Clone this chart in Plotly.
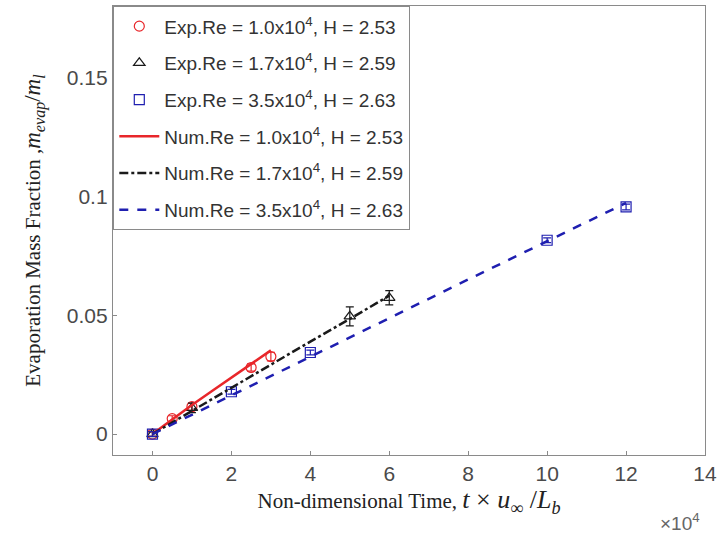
import plotly.graph_objects as go

# Experimental data (x in units of 1e4)
exp1_x = [0, 0.5, 1.0, 2.5, 3.0]
exp1_y = [0.0, 0.0065, 0.0115, 0.028, 0.0326]
exp1_err = [0.001, 0.0012, 0.0015, 0.0015, 0.0018]

exp2_x = [0, 1.0, 5.0, 6.0]
exp2_y = [0.0, 0.011, 0.0495, 0.0573]
exp2_err = [0.001, 0.002, 0.004, 0.003]

exp3_x = [0, 2.0, 4.0, 10.0, 12.0]
exp3_y = [0.0, 0.0178, 0.0343, 0.0815, 0.0955]
exp3_err = [0.001, 0.001, 0.001, 0.001, 0.0012]

# Numerical curves
num1_x = [0, 0.5, 1.0, 1.5, 2.0, 2.5, 3.0]
num1_y = [0.0, 0.0062, 0.0122, 0.018, 0.0238, 0.0295, 0.0352]
num2_x = [0, 1, 2, 3, 4, 5, 6]
num2_y = [0.0, 0.0098, 0.0196, 0.0293, 0.0389, 0.0484, 0.0582]
num3_x = [0, 2, 4, 6, 8, 10, 12]
num3_y = [0.0, 0.0163, 0.0326, 0.0488, 0.0650, 0.0811, 0.0972]

labels_exp = ["Exp.Re = 1.0x10<sup>4</sup>, H = 2.53",
              "Exp.Re = 1.7x10<sup>4</sup>, H = 2.59",
              "Exp.Re = 3.5x10<sup>4</sup>, H = 2.63"]
labels_num = ["Num.Re = 1.0x10<sup>4</sup>, H = 2.53",
              "Num.Re = 1.7x10<sup>4</sup>, H = 2.59",
              "Num.Re = 3.5x10<sup>4</sup>, H = 2.63"]

red = "#e8262a"
black = "#1a1a1a"
blue = "#1f1fb0"

fig = go.Figure()

exps = [(exp1_x, exp1_y, exp1_err, red, "circle-open"),
        (exp2_x, exp2_y, exp2_err, black, "triangle-up-open"),
        (exp3_x, exp3_y, exp3_err, blue, "square-open")]
for i, (x, y, e, c, sym) in enumerate(exps):
    fig.add_trace(go.Scatter(
        x=x, y=y, mode="markers", name=labels_exp[i], legendgroup=f"g{i}",
        marker=dict(symbol=sym, size=10, color=c, line=dict(width=1.2, color=c)),
        error_y=dict(type="data", array=e, color=c, thickness=1.2, width=4),
    ))

nums = [(num1_x, num1_y, red, "solid", 2.5),
        (num2_x, num2_y, black, "dashdot", 2.5),
        (num3_x, num3_y, blue, "dash", 2.5)]
for i, (x, y, c, d, w) in enumerate(nums):
    fig.add_trace(go.Scatter(
        x=x, y=y, mode="lines", name=labels_num[i], legendgroup=f"n{i}",
        line=dict(color=c, dash=d, width=w),
    ))

axis_common = dict(
    showgrid=False, zeroline=False, showline=True, mirror=True,
    linecolor="#8a8a8a", linewidth=1.3, ticks="inside", ticklen=4,
    tickcolor="#8a8a8a",
    tickfont=dict(family="Liberation Sans, Arial", size=21, color="#4a4a4a"),
)

xtitle = ("Non-dimensional Time, <span style='font-size:26px'><i>t</i>&nbsp;×&nbsp;"
          "<i>u</i><sub>∞</sub>&nbsp;/<i>L</i><sub><i>b</i></sub></span>")
ytitle = ("Evaporation Mass Fraction ,<span style='font-size:23px'><i>m</i><sub><i>evap</i></sub>"
          "/<i>m</i><sub><i>l</i></sub></span>")

fig.update_layout(
    width=722, height=545,
    margin=dict(l=113, r=15, t=5, b=90),
    paper_bgcolor="white", plot_bgcolor="white",
    xaxis=dict(range=[-1, 14], tickvals=[0, 2, 4, 6, 8, 10, 12, 14],
               title=dict(text=xtitle,
                          font=dict(family="Liberation Serif, Times New Roman", size=21, color="#222"),
                          standoff=4),
               **axis_common),
    yaxis=dict(range=[-0.0088, 0.18], tickvals=[0, 0.05, 0.1, 0.15],
               ticktext=["0", "0.05", "0.1", "0.15"],
               title=dict(text=ytitle,
                          font=dict(family="Liberation Serif, Times New Roman", size=21, color="#222"),
                          standoff=20),
               **axis_common),
    legend=dict(
        x=0, y=1, xanchor="left", yanchor="top",
        bgcolor="white", bordercolor="#8a8a8a", borderwidth=1.3,
        font=dict(family="Liberation Sans, Arial", size=19, color="#333"),
        traceorder="grouped", tracegroupgap=9, itemwidth=40,
    ),
    showlegend=True,
)

fig.add_annotation(
    text="×10<sup>4</sup>", xref="paper", yref="paper", x=0.995, y=-0.15,
    xanchor="right", yanchor="middle", showarrow=False,
    font=dict(family="Liberation Sans, Arial", size=19, color="#666"),
)

fig.write_html("out.html")
